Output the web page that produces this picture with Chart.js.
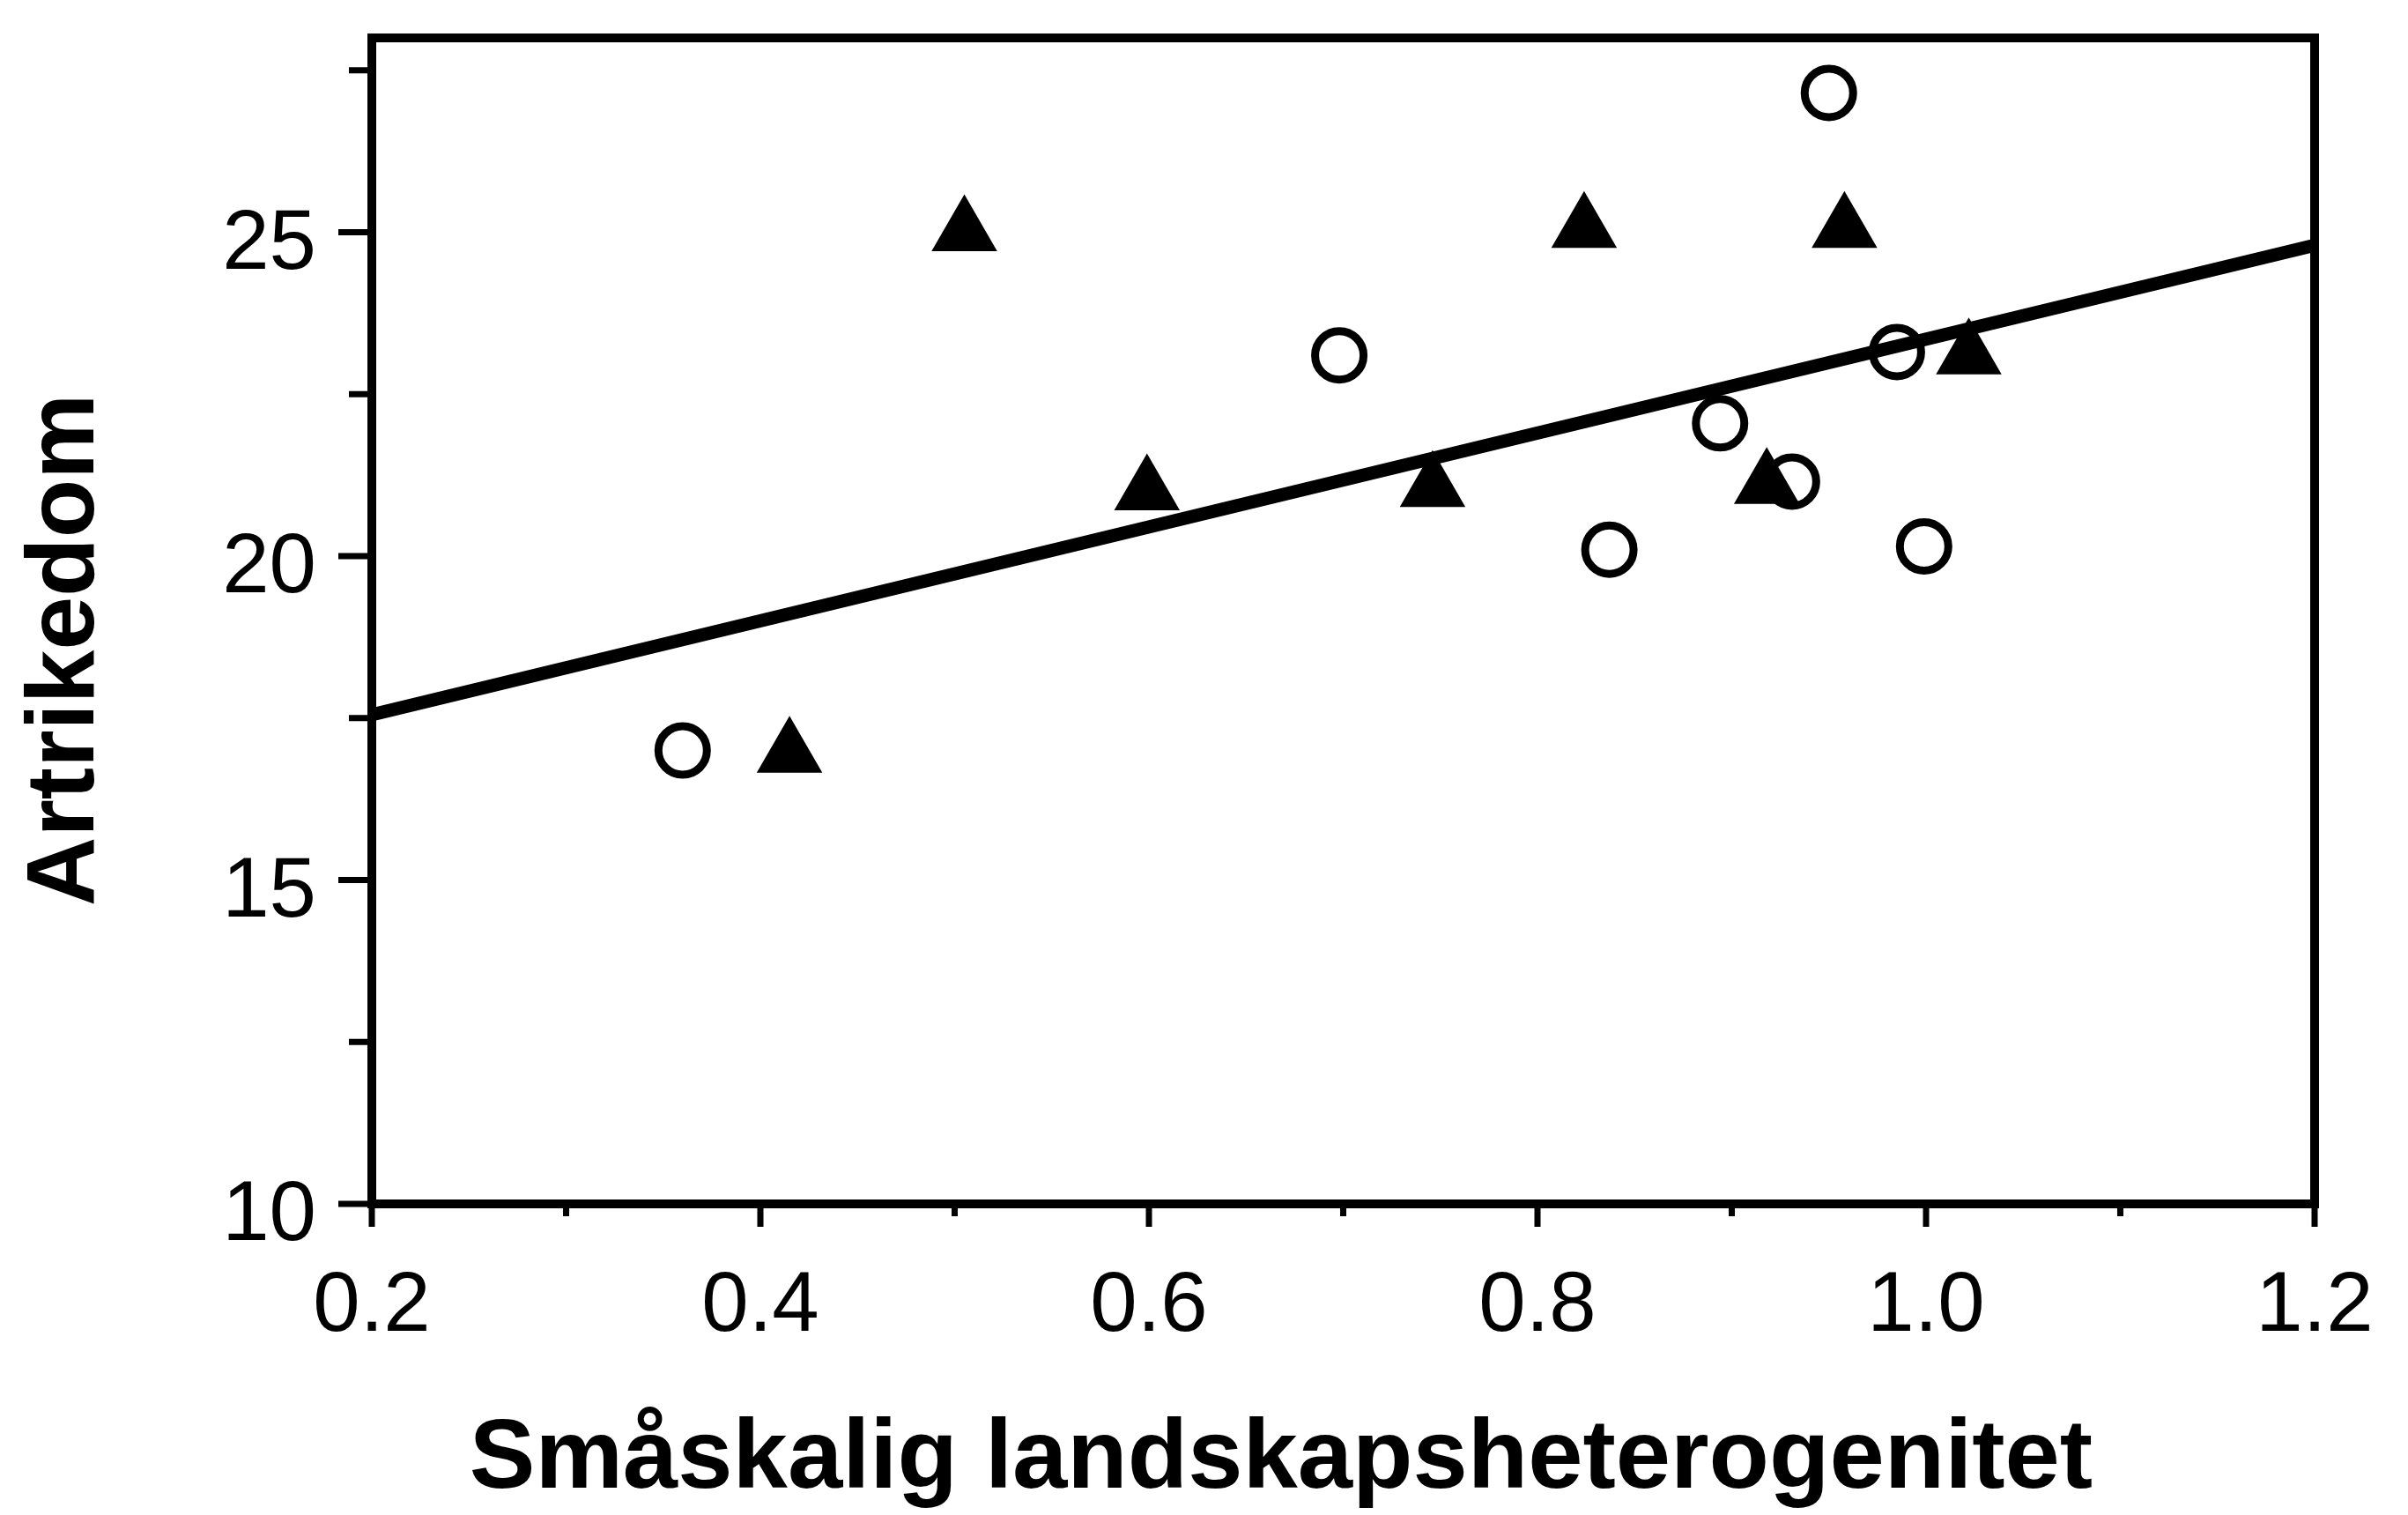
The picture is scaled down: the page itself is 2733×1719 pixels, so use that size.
<!DOCTYPE html>
<html>
<head>
<meta charset="utf-8">
<title>Artrikedom</title>
<script src="https://cdn.jsdelivr.net/npm/chart.js@4/dist/chart.umd.min.js"></script>
<style>
  html, body { margin: 0; padding: 0; background: #fff; }
  #wrap { width: 2733px; height: 1719px; }
</style>
</head>
<body>
<div id="wrap"><canvas id="myChart" width="2733" height="1719"></canvas></div>
<script>
// open circles
const circleX = [0.36, 0.698, 0.837, 0.894, 0.931, 0.950, 0.985, 0.999];
const circleY = [17.0, 23.1, 20.1, 22.05, 21.15, 27.15, 23.15, 20.15];
// filled triangles
const triangleX = [0.415, 0.505, 0.599, 0.746, 0.824, 0.918, 0.958, 1.022];
const triangleY = [16.95, 25.0, 21.0, 21.05, 25.05, 21.1, 25.05, 23.1];
// regression line end points
const lineX = [0.2, 1.2];
const lineY = [17.55, 24.8];

// tick labels and tick marks
const xTickLabels = [0.2, 0.4, 0.6, 0.8, 1.0, 1.2];
const xMinorTicks = [0.3, 0.5, 0.7, 0.9, 1.1];
const yTickLabels = [10, 15, 20, 25];
const yMinorTicks = [12.5, 17.5, 22.5, 27.5];

const xTitle = 'Småskalig landskapsheterogenitet';
const yTitle = 'Artrikedom';

function toPoints(xs, ys) {
    return xs.map(function(x, i) { return {x: x, y: ys[i]}; });
}

// box round the plot and the outside tick marks
const framePlugin = {
    id: 'frame',
    beforeDatasetsDraw(chart) {
        const ctx = chart.ctx;
        const a = chart.chartArea;
        const x = chart.scales.x;
        const y = chart.scales.y;
        ctx.save();
        ctx.strokeStyle = '#000';
        ctx.lineWidth = 10;
        ctx.strokeRect(a.left, a.top, a.right - a.left, a.bottom - a.top);

        ctx.lineWidth = 7;
        ctx.beginPath();
        for (const v of yTickLabels) {
            const p = y.getPixelForValue(v);
            ctx.moveTo(a.left, p);
            ctx.lineTo(a.left - 38, p);
        }
        for (const v of yMinorTicks) {
            const p = y.getPixelForValue(v);
            ctx.moveTo(a.left, p);
            ctx.lineTo(a.left - 26, p);
        }
        for (const v of xTickLabels) {
            const p = x.getPixelForValue(v);
            ctx.moveTo(p, a.bottom);
            ctx.lineTo(p, a.bottom + 26);
        }
        for (const v of xMinorTicks) {
            const p = x.getPixelForValue(v);
            ctx.moveTo(p, a.bottom);
            ctx.lineTo(p, a.bottom + 14);
        }
        ctx.stroke();
        ctx.restore();
    },
    // axis titles, placed a little off centre as in the original figure
    afterDraw(chart) {
        const ctx = chart.ctx;
        const a = chart.chartArea;
        ctx.save();
        ctx.fillStyle = '#000';
        ctx.textAlign = 'center';
        ctx.textBaseline = 'alphabetic';

        ctx.font = "bold 112px 'Liberation Sans', Arial, sans-serif";
        ctx.fillText(xTitle, a.left + (a.right - a.left) * 0.468, a.bottom + 322);

        ctx.font = "bold 109px 'Liberation Sans', Arial, sans-serif";
        ctx.translate(a.left - 316, a.top + (a.bottom - a.top) * 0.525);
        ctx.rotate(-Math.PI / 2);
        ctx.fillText(yTitle, 0, 0);
        ctx.restore();
    }
};

const tickFont = {family: "'Liberation Sans', Arial, sans-serif", size: 96};

const myChart = new Chart('myChart', {
    type: 'scatter',
    data: {
        datasets: [
            {
                type: 'line',
                label: 'regression',
                data: toPoints(lineX, lineY),
                borderColor: '#000',
                borderWidth: 15,
                pointRadius: 0,
                fill: false,
                order: 0
            },
            {
                label: 'triangles',
                data: toPoints(triangleX, triangleY),
                pointStyle: 'triangle',
                pointRadius: 41,
                backgroundColor: '#000',
                borderColor: '#000',
                borderWidth: 2,
                order: 1
            },
            {
                label: 'circles',
                data: toPoints(circleX, circleY),
                pointStyle: 'circle',
                pointRadius: 27.5,
                backgroundColor: '#fff',
                borderColor: '#000',
                borderWidth: 9,
                order: 2
            }
        ]
    },
    options: {
        responsive: false,
        devicePixelRatio: 1,
        animation: false,
        layout: {padding: {top: 40, right: 106, left: 0, bottom: 0}},
        plugins: {
            legend: {display: false},
            tooltip: {enabled: false}
        },
        scales: {
            x: {
                type: 'linear',
                min: 0.2,
                max: 1.2,
                grid: {display: false, drawTicks: false},
                border: {display: false},
                afterBuildTicks: function(scale) {
                    scale.ticks = xTickLabels.map(function(v) { return {value: v}; });
                },
                afterFit: function(scale) {
                    scale.height = 1719 - 1366;
                    scale.paddingLeft = 0;
                    scale.paddingRight = 0;
                },
                ticks: {
                    color: '#000',
                    font: tickFont,
                    padding: 60,
                    maxRotation: 0,
                    callback: function(v) { return Number(v).toFixed(1); }
                }
            },
            y: {
                type: 'linear',
                min: 10,
                max: 28,
                grid: {display: false, drawTicks: false},
                border: {display: false},
                afterBuildTicks: function(scale) {
                    scale.ticks = yTickLabels.map(function(v) { return {value: v}; });
                },
                afterFit: function(scale) {
                    scale.width = 422;
                    scale.paddingTop = 0;
                    scale.paddingBottom = 0;
                },
                ticks: {
                    color: '#000',
                    font: tickFont,
                    padding: 63,
                    labelOffset: 15
                }
            }
        }
    },
    plugins: [framePlugin]
});
</script>
</body>
</html>
